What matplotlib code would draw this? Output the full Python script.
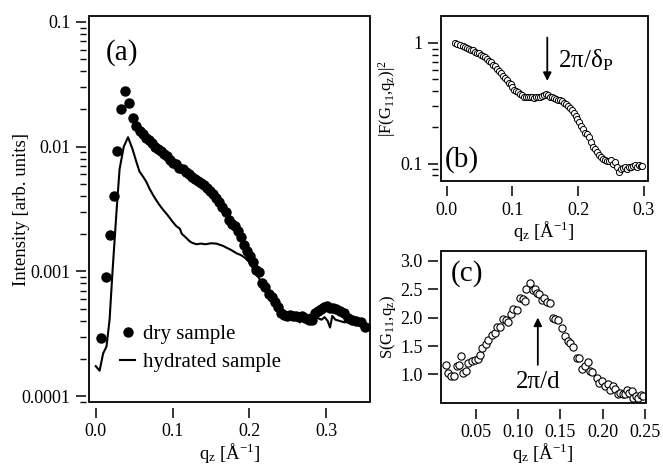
import numpy as np
import matplotlib
matplotlib.use('Agg')
import matplotlib.pyplot as plt
from matplotlib.patches import Rectangle
from matplotlib.ticker import FixedLocator, FuncFormatter, LogLocator, NullFormatter

plt.rcParams['font.family'] = ['Liberation Serif', 'DejaVu Serif']
plt.rcParams['mathtext.fontset'] = 'custom'
plt.rcParams['mathtext.rm'] = 'Liberation Serif'
plt.rcParams['mathtext.it'] = 'Liberation Serif:italic'

# (a) dry sample
dry_q = [0.007, 0.013, 0.018, 0.0235, 0.028, 0.0335, 0.0387, 0.0434, 0.048, 0.053,
         0.057, 0.061, 0.065, 0.069, 0.073, 0.077, 0.081, 0.085, 0.089, 0.093,
         0.097, 0.101, 0.105, 0.109, 0.113, 0.117, 0.121, 0.125, 0.129, 0.133,
         0.137, 0.141, 0.145, 0.149, 0.153, 0.157, 0.161, 0.165, 0.169, 0.173,
         0.177, 0.181, 0.185, 0.189, 0.193, 0.197, 0.201, 0.205, 0.209, 0.213,
         0.217, 0.221, 0.225, 0.229, 0.233, 0.237, 0.241, 0.245, 0.249, 0.253,
         0.257, 0.261, 0.265, 0.269, 0.273, 0.277, 0.281, 0.285, 0.289, 0.293,
         0.297, 0.301, 0.305, 0.309, 0.313, 0.318, 0.323, 0.329, 0.334, 0.339,
         0.345, 0.351]
dry_I = [2.9e-4, 9.0e-4, 1.95e-3, 4.0e-3, 9.2e-3, 0.020, 0.0277, 0.0224, 0.017, 0.0145,
         0.0133, 0.0126, 0.0118, 0.0112, 0.0106, 0.0100, 0.0095, 0.0092, 0.0087, 0.0084,
         0.0078, 0.0074, 0.0072, 0.0068, 0.0066, 0.0063, 0.0060, 0.0057, 0.0055, 0.0053,
         0.0051, 0.0049, 0.0047, 0.0044, 0.0042, 0.0039, 0.0036, 0.0033, 0.0030, 0.0026,
         0.0024, 0.0023, 0.0021, 0.0019, 0.00162, 0.00145, 0.00132, 0.00120, 0.00102, 0.00098,
         0.00080, 0.00075, 0.00066, 0.00062, 0.00057, 0.00052, 0.00046, 0.00045, 0.00044, 0.00045,
         0.00044, 0.00044, 0.00043, 0.00044, 0.00042, 0.00041, 0.00041, 0.00046, 0.00048, 0.00050,
         0.00052, 0.00053, 0.00051, 0.00051, 0.00050, 0.00048, 0.00046, 0.00042, 0.00041, 0.00040,
         0.00039, 0.00036]

# (a) hydrated sample
hyd_q = [0.0, 0.005, 0.0096, 0.014, 0.018, 0.022, 0.027, 0.031, 0.0365, 0.042,
         0.048, 0.053, 0.057, 0.062, 0.066, 0.070, 0.0745, 0.079, 0.083, 0.088,
         0.092, 0.096, 0.100, 0.105, 0.1095, 0.112, 0.116, 0.118, 0.122, 0.125,
         0.131, 0.137, 0.143, 0.150, 0.157, 0.162, 0.166, 0.170, 0.175, 0.179,
         0.183, 0.189, 0.194, 0.199, 0.203, 0.206, 0.2095, 0.214, 0.218, 0.223,
         0.227, 0.231, 0.2356, 0.240, 0.244, 0.248, 0.252, 0.256, 0.260, 0.264,
         0.266, 0.270, 0.274, 0.278, 0.282, 0.286, 0.290, 0.294, 0.298, 0.302,
         0.305, 0.308, 0.312, 0.318, 0.324, 0.330, 0.335, 0.340, 0.345, 0.350]
hyd_I = [1.74e-4, 1.6e-4, 2.2e-4, 2.5e-4, 4.1e-4, 1.04e-3, 3.0e-3, 6.6e-3, 0.0100, 0.0119,
         0.0095, 0.0075, 0.0063, 0.0057, 0.0052, 0.0046, 0.0041, 0.0037, 0.0034, 0.0031,
         0.0029, 0.0027, 0.0025, 0.0023, 0.0022, 0.0020, 0.0019, 0.00185, 0.00175, 0.0017,
         0.00165, 0.00167, 0.00165, 0.00168, 0.00167, 0.00163, 0.0016, 0.00155, 0.0015, 0.00145,
         0.0014, 0.00135, 0.00129, 0.0012, 0.0011, 0.00102, 0.00095, 0.00085, 0.00076, 0.00069,
         0.00063, 0.00058, 0.00055, 0.00051, 0.00048, 0.00046, 0.00044, 0.00047, 0.00043, 0.00041,
         0.00039, 0.00044, 0.00042, 0.00045, 0.00043, 0.00044, 0.00042, 0.00041, 0.00043, 0.00040,
         0.000355, 0.00044, 0.00041, 0.00040, 0.00039, 0.00040, 0.00040, 0.00038, 0.00037, 0.00036]

# (b) |F(G11,qz)|^2
F_q = [0.012, 0.016, 0.020, 0.024, 0.027, 0.030, 0.034, 0.037, 0.040, 0.043,
       0.046, 0.049, 0.052, 0.055, 0.058, 0.061, 0.064, 0.067, 0.070, 0.073,
       0.076, 0.079, 0.082, 0.085, 0.088, 0.091, 0.094, 0.097, 0.100, 0.103,
       0.106, 0.109, 0.112, 0.115, 0.118, 0.121, 0.124, 0.127, 0.130, 0.133,
       0.136, 0.139, 0.142, 0.145, 0.148, 0.151, 0.154, 0.157, 0.160, 0.163,
       0.166, 0.169, 0.172, 0.175, 0.178, 0.181, 0.184, 0.187, 0.190, 0.193,
       0.196, 0.199, 0.202, 0.205, 0.208, 0.211, 0.214, 0.217, 0.220, 0.223,
       0.226, 0.229, 0.232, 0.235, 0.238, 0.241, 0.244, 0.247, 0.250, 0.253,
       0.256, 0.259, 0.262, 0.265, 0.268, 0.271, 0.274, 0.277, 0.280, 0.283,
       0.286, 0.289, 0.292, 0.295, 0.297]
F_I = [1.00, 0.98, 0.96, 0.94, 0.93, 0.91, 0.90, 0.88, 0.87, 0.85,
       0.83, 0.82, 0.80, 0.78, 0.76, 0.73, 0.71, 0.69, 0.66, 0.64,
       0.61, 0.59, 0.56, 0.53, 0.51, 0.49, 0.47, 0.46, 0.43, 0.41,
       0.40, 0.39, 0.38, 0.37, 0.36, 0.355, 0.36, 0.355, 0.36, 0.35,
       0.36, 0.355, 0.36, 0.365, 0.37, 0.375, 0.37, 0.36, 0.355, 0.35,
       0.345, 0.34, 0.335, 0.33, 0.32, 0.31, 0.30, 0.29, 0.28, 0.265,
       0.25, 0.235, 0.22, 0.205, 0.195, 0.18, 0.175, 0.165, 0.15, 0.138,
       0.132, 0.126, 0.118, 0.113, 0.11, 0.107, 0.105, 0.106, 0.108, 0.10,
       0.104, 0.094, 0.085, 0.09, 0.092, 0.093, 0.091, 0.094, 0.093, 0.095,
       0.097, 0.094, 0.097, 0.096, 0.096]

# (c) S(G11,qz)
S_q = [0.0145, 0.0176, 0.0208, 0.024, 0.0275, 0.0306, 0.0326, 0.0353, 0.0385, 0.0413,
       0.0453, 0.049, 0.0524, 0.055, 0.058, 0.062, 0.065, 0.069, 0.0728, 0.0748,
       0.0787, 0.0826, 0.0858, 0.0885, 0.0917, 0.0945, 0.0985, 0.1024, 0.1055, 0.108,
       0.110, 0.114, 0.1174, 0.120, 0.122, 0.125, 0.128, 0.131, 0.134, 0.138,
       0.141, 0.1437, 0.1476, 0.1516, 0.1556, 0.1587, 0.1615, 0.1646, 0.1693, 0.1725,
       0.1753, 0.179, 0.1824, 0.185, 0.188, 0.193, 0.196, 0.199, 0.203, 0.206,
       0.2087, 0.212, 0.2147, 0.2178, 0.2206, 0.2237, 0.2265, 0.2285, 0.2316, 0.2344,
       0.2363, 0.2395, 0.242, 0.2454, 0.248]
S_val = [1.17, 1.02, 0.98, 0.98, 1.145, 1.17, 1.33, 1.03, 1.06, 1.20,
         1.23, 1.26, 1.27, 1.35, 1.46, 1.54, 1.60, 1.70, 1.73, 1.83,
         1.84, 1.97, 1.96, 1.93, 2.07, 2.16, 2.14, 2.34, 2.32, 2.29,
         2.51, 2.61, 2.48, 2.51, 2.43, 2.42, 2.31, 2.34, 2.28, 2.25,
         2.00, 1.97, 1.95, 1.81, 1.67, 1.58, 1.56, 1.49, 1.29, 1.29,
         1.10, 1.14, 1.21, 1.06, 1.04, 0.93, 0.84, 0.88, 0.80, 0.83,
         0.73, 0.80, 0.74, 0.65, 0.68, 0.66, 0.65, 0.73, 0.68, 0.71,
         0.59, 0.62, 0.58, 0.63, 0.62]

qlabel = r'q$_\mathrm{z}$ [Å$^\mathrm{-1}$]'


def style(ax):
    # ticks sit slightly away from the frame, as in the original
    ax.spines['bottom'].set_position(('outward', 4))
    ax.spines['left'].set_position(('outward', 2))
    for s in ax.spines.values():
        s.set_visible(False)
    ax.add_patch(Rectangle((0, 0), 1, 1, transform=ax.transAxes, fill=False,
                           lw=1.3, edgecolor='black', clip_on=False, zorder=5))
    ax.tick_params(which='major', direction='out', length=7, width=1.1, labelsize=13)
    ax.tick_params(axis='x', which='major', pad=4)
    ax.tick_params(axis='y', which='major', pad=4)
    ax.tick_params(which='minor', direction='out', length=4, width=1.0)


fig = plt.figure(figsize=(6.63, 4.66), dpi=100)

# panel (a)
axa = fig.add_axes([0.134, 0.137, 0.424, 0.829])
axa.plot(dry_q, dry_I, 'o', color='black', markersize=6.5, label='dry sample')
axa.plot(hyd_q, hyd_I, '-', color='black', linewidth=1.5, label='hydrated sample')
axa.set_yscale('log')
axa.set_xlim(-0.009, 0.357)
axa.set_ylim(10 ** -4.048, 10 ** -0.952)
axa.xaxis.set_major_locator(FixedLocator([0.0, 0.1, 0.2, 0.3]))
axa.yaxis.set_major_locator(FixedLocator([1e-4, 1e-3, 1e-2, 1e-1]))
axa.yaxis.set_major_formatter(FuncFormatter(lambda v, p: {1e-4: '0.0001', 1e-3: '0.001', 1e-2: '0.01', 1e-1: '0.1'}.get(v, '')))
axa.xaxis.set_major_formatter(FuncFormatter(lambda v, p: '%.1f' % v))
axa.yaxis.set_minor_locator(LogLocator(base=10, subs=np.arange(2, 10)))
axa.yaxis.set_minor_formatter(NullFormatter())
style(axa)
axa.set_ylabel('Intensity [arb. units]', fontsize=13.5, labelpad=-6)
axa.set_xlabel(qlabel, fontsize=13.5, labelpad=1)
axa.text(0.06, 0.94, '(a)', transform=axa.transAxes, fontsize=21, va='top')
axa.legend(loc='lower left', bbox_to_anchor=(0.06, 0.04), frameon=False, fontsize=15,
           handlelength=0.7, handletextpad=0.4, labelspacing=0.4, borderpad=0.2, numpoints=1)

# panel (b)
axb = fig.add_axes([0.665, 0.612, 0.312, 0.354])
axb.plot(F_q, F_I, 'o', markerfacecolor='white', markeredgecolor='black',
         markersize=4.4, markeredgewidth=0.7)
axb.set_yscale('log')
axb.set_xlim(-0.009, 0.306)
axb.set_ylim(10 ** -1.142, 10 ** 0.225)
axb.xaxis.set_major_locator(FixedLocator([0.0, 0.1, 0.2, 0.3]))
axb.xaxis.set_major_formatter(FuncFormatter(lambda v, p: '%.1f' % v))
axb.yaxis.set_major_locator(FixedLocator([0.1, 1.0]))
axb.yaxis.set_major_formatter(FuncFormatter(lambda v, p: {0.1: '0.1', 1.0: '1'}.get(round(v, 3), '')))
axb.yaxis.set_minor_locator(LogLocator(base=10, subs=np.arange(2, 10)))
axb.yaxis.set_minor_formatter(NullFormatter())
style(axb)
axb.set_ylabel(r'|F(G$_\mathrm{11}$,q$_\mathrm{z}$)|$^\mathrm{2}$', fontsize=12, labelpad=2)
axb.set_xlabel(qlabel, fontsize=13.5, labelpad=0)
axb.annotate('', xy=(0.153, 0.46), xytext=(0.153, 1.17),
             arrowprops=dict(arrowstyle='-|>', color='black', lw=1.3, mutation_scale=12))
axb.text(0.170, 0.72, r'2π/δ$_\mathrm{P}$', fontsize=18, va='center', ha='left')
axb.text(0.02, 0.05, '(b)', transform=axb.transAxes, fontsize=21, va='bottom')

# panel (c)
axc = fig.add_axes([0.665, 0.135, 0.309, 0.326])
axc.plot(S_q, S_val, 'o', markerfacecolor='white', markeredgecolor='black',
         markersize=5.2, markeredgewidth=0.8)
axc.set_xlim(0.009, 0.251)
axc.set_ylim(0.495, 3.17)
axc.xaxis.set_major_locator(FixedLocator([0.05, 0.10, 0.15, 0.20, 0.25]))
axc.xaxis.set_major_formatter(FuncFormatter(lambda v, p: '%.2f' % v))
axc.yaxis.set_major_locator(FixedLocator([1.0, 1.5, 2.0, 2.5, 3.0]))
axc.yaxis.set_major_formatter(FuncFormatter(lambda v, p: '%.1f' % v))
style(axc)
axc.set_ylabel(r'S(G$_\mathrm{11}$,q$_\mathrm{z}$)', fontsize=12, labelpad=2)
axc.set_xlabel(qlabel, fontsize=13.5, labelpad=0)
axc.annotate('', xy=(0.1235, 2.05), xytext=(0.1235, 1.12),
             arrowprops=dict(arrowstyle='-|>', color='black', lw=1.3, mutation_scale=12))
axc.text(0.1235, 0.86, '2π/d', fontsize=18, va='center', ha='center')
axc.text(0.05, 0.94, '(c)', transform=axc.transAxes, fontsize=21, va='top')

fig.savefig('out.png', dpi=100)
